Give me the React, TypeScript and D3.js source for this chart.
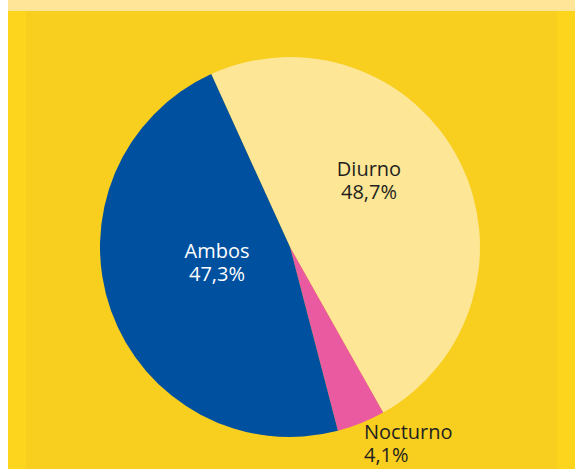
import React from "react";
import * as d3 from "d3";

const categories = ["Diurno", "Nocturno", "Ambos"];
const values = [48.7, 4.1, 47.3];
const valueLabels = ["48,7%", "4,1%", "47,3%"];
const colors = ["#fde695", "#ea5aa0", "#0050a0"];

const W = 575;
const H = 469;

export default function App() {
  const cx = 290;
  const cy = 247;
  const r = 190;
  const startDeg = -24.5;
  const pie = d3
    .pie<number>()
    .sort(null)
    .value((d) => d)
    .startAngle((startDeg * Math.PI) / 180)
    .endAngle((startDeg * Math.PI) / 180 + 2 * Math.PI);
  const arcs = pie(values);
  const arc = d3.arc<d3.PieArcDatum<number>>().innerRadius(0).outerRadius(r);

  const labelPos: [number, number, string][] = [
    [369, 176, "middle"],
    [364, 439, "start"],
    [217, 258, "middle"],
  ];
  const labelColors = ["#231f20", "#231f20", "#ffffff"];

  return (
    <svg
      width={W}
      height={H}
      style={{ position: "absolute", left: 0, top: 0, display: "block" }}
    >
      <rect x={0} y={0} width={W} height={H} fill="#ffffff" />
      <rect x={8} y={0} width={W - 8} height={11} fill="#fee598" />
      <rect x={8} y={11} width={W - 8} height={H - 11} fill="#fdd51c" />
      <rect x={26} y={11} width={557 - 26} height={H - 11} fill="#f8ce1f" />
      <g transform={`translate(${cx},${cy})`}>
        {arcs.map((a, i) => (
          <path key={categories[i]} d={arc(a) || ""} fill={colors[i]} />
        ))}
      </g>
      {categories.map((c, i) => (
        <text
          key={c}
          x={labelPos[i][0]}
          y={labelPos[i][1]}
          textAnchor={labelPos[i][2] as any}
          fontFamily="'Open Sans', sans-serif"
          fontSize={20}
          fill={labelColors[i]}
        >
          <tspan x={labelPos[i][0]}>{c}</tspan>
          <tspan x={labelPos[i][0]} dy={23}>
            {valueLabels[i]}
          </tspan>
        </text>
      ))}
    </svg>
  );
}
